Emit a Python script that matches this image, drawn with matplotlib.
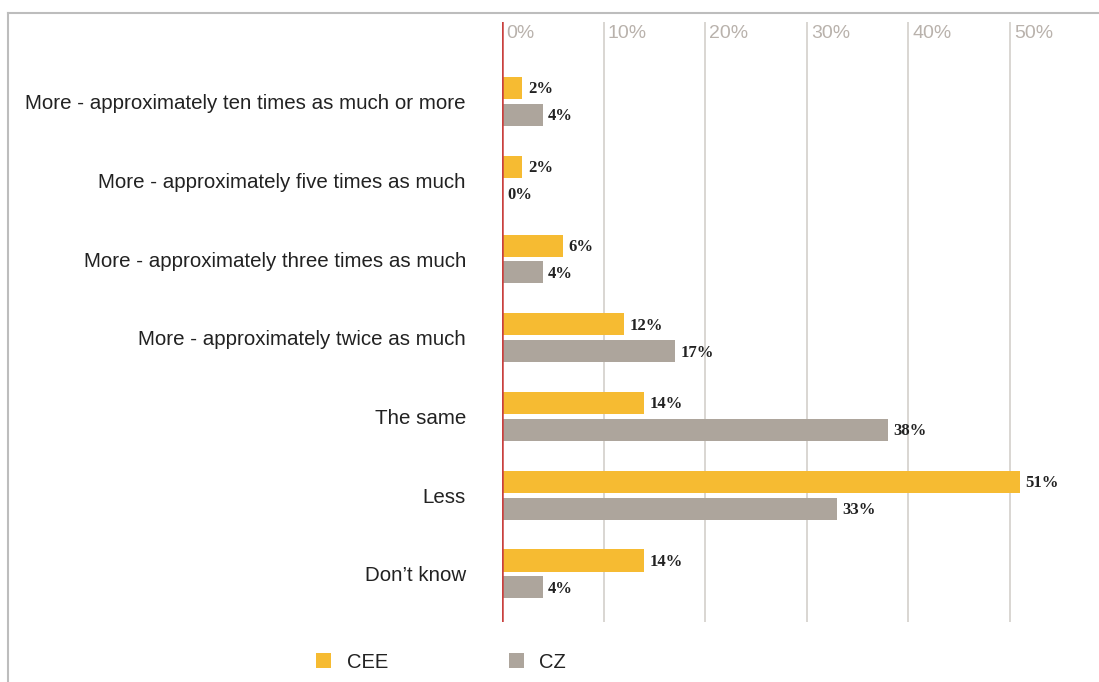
import matplotlib.pyplot as plt
from matplotlib.lines import Line2D
import numpy as np

categories = ['More - approximately ten times as much or more',
              'More - approximately five times as much',
              'More - approximately three times as much',
              'More - approximately twice as much',
              'The same',
              'Less',
              'Don\u2019t know']
cee = [2, 2, 6, 12, 14, 51, 14]
cz = [4, 0, 4, 17, 38, 33, 4]
series_names = ['CEE', 'CZ']
ticks = [0, 10, 20, 30, 40, 50]

cee_color = '#F6BB32'
cz_color = '#ADA59C'

W, H = 1099, 682
fig = plt.figure(figsize=(W / 100, H / 100), dpi=100)
ax = fig.add_axes([502 / W, 1 - 622 / H, 588 / W, 600 / H])

y = np.arange(len(categories))
off = 0.171
hgt = 0.28
b1 = ax.barh(y - off, cee, height=hgt, color=cee_color, label=series_names[0], zorder=3)
b2 = ax.barh(y + off, cz, height=hgt, color=cz_color, label=series_names[1], zorder=3)

for bars, vals in [(b1, cee), (b2, cz)]:
    for bar, v in zip(bars, vals):
        ax.annotate(f'{v}%', (v, bar.get_y() + bar.get_height() / 2),
                    xytext=(4, -1), textcoords='offset points', va='center', ha='left',
                    fontsize=12, fontweight='bold', family='Liberation Serif', color='#222222')

ax.set_xlim(0, 57.9)
ax.set_ylim(6.61, -1.01)
ax.set_yticks(y)
ax.set_yticklabels(categories, fontsize=14.8, family='Liberation Sans', color='#222222')
ax.tick_params(axis='y', length=0, pad=26)
ax.set_xticks([])
for t in ticks:
    if t > 0:
        ax.axvline(t, color='#D3CFCB', lw=1.2, zorder=1)
    ax.annotate(f'{t}%', (t, -1.01), xytext=(3, -2), textcoords='offset points',
                fontsize=14, family='Liberation Sans', color='#B9B2AC', ha='left', va='top')
ax.axvline(0, color='#C9403E', lw=1.8, zorder=4)
for s in ax.spines.values():
    s.set_visible(False)

fig.legend(handles=[b1, b2], labels=series_names, loc='center', ncol=2,
           bbox_to_anchor=(441 / W, 1 - 662 / H), frameon=False,
           prop={'family': 'Liberation Sans', 'size': 14.5},
           handlelength=0.75, handleheight=0.75, handletextpad=0.75, columnspacing=6.0,
           labelcolor='#222222')

fig.add_artist(Line2D([8 / W, 1], [1 - 13 / H, 1 - 13 / H], color='#BDBDBD', lw=1.5,
                      transform=fig.transFigure))
fig.add_artist(Line2D([8 / W, 8 / W], [0, 1 - 13 / H], color='#BDBDBD', lw=1.5,
                      transform=fig.transFigure))

fig.savefig('out.png', dpi=100)
